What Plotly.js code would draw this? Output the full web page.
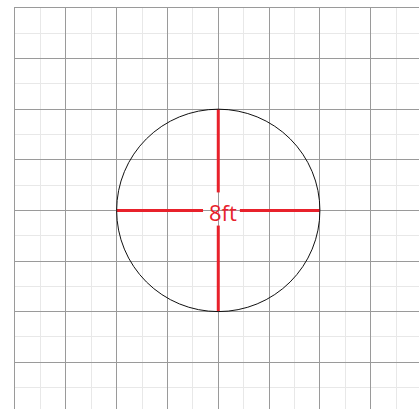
<!DOCTYPE html>
<html><head><meta charset="utf-8">
<script src="https://cdn.plot.ly/plotly-3.0.1.min.js"></script>
<style>html,body{margin:0;padding:0;background:#fff}#c{width:419px;height:409px}</style>
</head><body><div id="c"></div>
<script>
const diameterFt = 8;
const centerX = 0;
const centerY = 0;
const labelText = '8ft';
const labelGapH = [-0.6, 0.85];
const labelGapV = [0.71, -0.6];

const r = diameterFt / 2;
const red = '#e8212b';
const traces = [
  {x:[centerX - r, centerX + labelGapH[0], null, centerX + labelGapH[1], centerX + r],
   y:[centerY, centerY, null, centerY, centerY], mode:'lines', line:{color:red, width:3}, hoverinfo:'skip'},
  {x:[centerX, centerX, null, centerX, centerX],
   y:[centerY + r, centerY + labelGapV[0], null, centerY + labelGapV[1], centerY - r], mode:'lines', line:{color:red, width:3}, hoverinfo:'skip'}
];
const layout = {
  width:419, height:409, showlegend:false,
  margin:{l:15, r:0, t:8, b:0, pad:0},
  paper_bgcolor:'#fff', plot_bgcolor:'#fff',
  xaxis:{range:[-8, 7.9], dtick:2, tick0:0, showgrid:true, gridcolor:'#9a9a9a', gridwidth:1,
         side:'top', showline:true, linecolor:'#9a9a9a', linewidth:1,
         zeroline:false, showticklabels:false, ticks:'', fixedrange:true,
         minor:{dtick:1, tick0:0, showgrid:true, gridcolor:'#e8e8e8', gridwidth:1}},
  yaxis:{range:[-7.85, 8], dtick:2, tick0:0, showgrid:true, gridcolor:'#9a9a9a', gridwidth:1,
         showline:true, linecolor:'#9a9a9a', linewidth:1,
         zeroline:false, showticklabels:false, ticks:'', fixedrange:true,
         minor:{dtick:1, tick0:0, showgrid:true, gridcolor:'#e8e8e8', gridwidth:1}},
  shapes:[{type:'circle', xref:'x', yref:'y', x0:centerX - r, x1:centerX + r, y0:centerY - r, y1:centerY + r,
           line:{color:'#111', width:1}, layer:'above'}],
  annotations:[{x:centerX + 0.18, y:centerY - 0.08, xref:'x', yref:'y', text:labelText, showarrow:false,
                font:{family:'Open Sans, Noto Sans, sans-serif', size:22, color:red}}]
};
Plotly.newPlot('c', traces, layout, {displayModeBar:false, staticPlot:true});
</script></body></html>
